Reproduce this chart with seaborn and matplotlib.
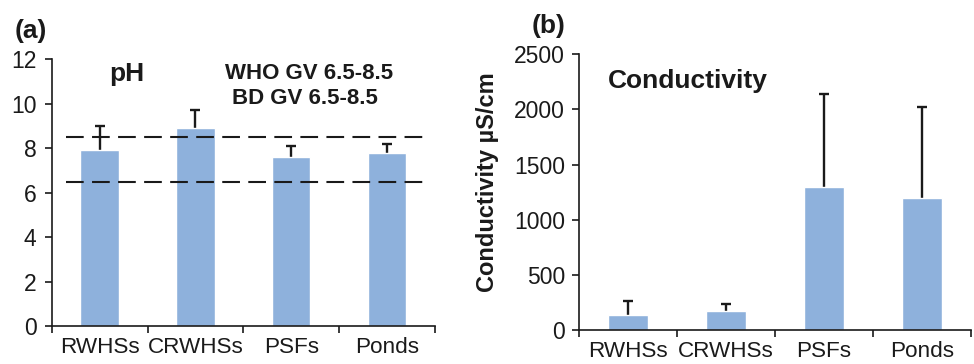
import matplotlib

matplotlib.use("Agg")
import matplotlib.pyplot as plt
import numpy as np
import seaborn as sns

SITES = ["RWHSs", "CRWHSs", "PSFs", "Ponds"]
PH_MEAN = [7.9, 8.9, 7.6, 7.8]
PH_ERR = [1.1, 0.8, 0.5, 0.4]
PH_GUIDE = [6.5, 8.5]
COND_MEAN = [140, 170, 1300, 1200]
COND_ERR = [120, 70, 840, 820]

BAR_COLOR = "#8EB1DC"
INK = "#1a1a1a"

sns.set_theme(style="white")
plt.rcParams["font.family"] = ["Liberation Sans", "DejaVu Sans"]


def draw_panel(ax, means, errs, ymax, step, ypad):
    sns.barplot(x=SITES, y=means, color=BAR_COLOR, width=0.4,
                errorbar=None, saturation=1, ax=ax, zorder=1)
    # lower half of the error bar hides behind the bar, like the original
    ax.errorbar(range(len(SITES)), means, yerr=errs, fmt="none",
                ecolor=INK, elinewidth=1.7, capsize=3.8,
                capthick=1.7, zorder=0.5)
    ax.set_xlim(-0.5, len(SITES) - 0.5)
    ax.set_ylim(0, ymax)
    ax.set_yticks(np.arange(0, ymax + step / 2, step))
    ax.set_xticks(np.arange(-0.5, len(SITES)))
    ax.set_xticks(range(len(SITES)), minor=True)
    ax.set_xticklabels([""] * (len(SITES) + 1))
    ax.set_xticklabels(SITES, minor=True)
    ax.tick_params(axis="x", which="major", direction="out", length=5,
                   width=1.2, color=INK, bottom=True)
    ax.tick_params(axis="x", which="minor", length=0, bottom=True,
                   labelsize=16.2, pad=8, labelcolor=INK)
    ax.tick_params(axis="y", direction="out", length=5, width=1.2,
                   color=INK, left=True, labelsize=16.5, pad=ypad,
                   labelcolor=INK)
    for side in ["top", "right"]:
        ax.spines[side].set_visible(False)
    for side in ["left", "bottom"]:
        ax.spines[side].set_color(INK)
        ax.spines[side].set_linewidth(1.2)
    ax.set_xlabel("")
    ax.set_ylabel("")


fig = plt.figure(figsize=(9.74, 3.64), dpi=100)
ax1 = fig.add_axes([0.0531, 0.1044, 0.3935, 0.7327])
ax2 = fig.add_axes([0.5945, 0.0934, 0.4025, 0.7574])

draw_panel(ax1, PH_MEAN, PH_ERR, 12, 2, 6)
ax1.hlines(PH_GUIDE, -0.35, 3.42, colors=INK, linewidth=1.5,
           linestyles=(0, (8.5, 4)), zorder=3)
ax1.text(0.196, 0.92, "pH", transform=ax1.transAxes, fontsize=19,
         fontweight="bold", ha="center", va="baseline", color=INK)
ax1.text(0.671, 0.925, "WHO GV 6.5-8.5", transform=ax1.transAxes,
         fontsize=16, fontweight="bold", ha="center", va="baseline",
         color=INK)
ax1.text(0.66, 0.832, "BD GV 6.5-8.5", transform=ax1.transAxes,
         fontsize=16, fontweight="bold", ha="center", va="baseline",
         color=INK)

draw_panel(ax2, COND_MEAN, COND_ERR, 2500, 500, 5)
ax2.text(0.073, 0.877, "Conductivity", transform=ax2.transAxes, fontsize=19,
         fontweight="bold", ha="left", va="baseline", color=INK)
ax2.set_ylabel("Conductivity µS/cm", fontsize=17, fontweight="bold",
               color=INK)
ax2.yaxis.set_label_coords(-0.205, 0.537)

fig.text(0.0154, 0.896, "(a)", fontsize=19, fontweight="bold",
         ha="left", va="baseline", color=INK)
fig.text(0.546, 0.909, "(b)", fontsize=19, fontweight="bold",
         ha="left", va="baseline", color=INK)

fig.savefig("out.png", dpi=100)
